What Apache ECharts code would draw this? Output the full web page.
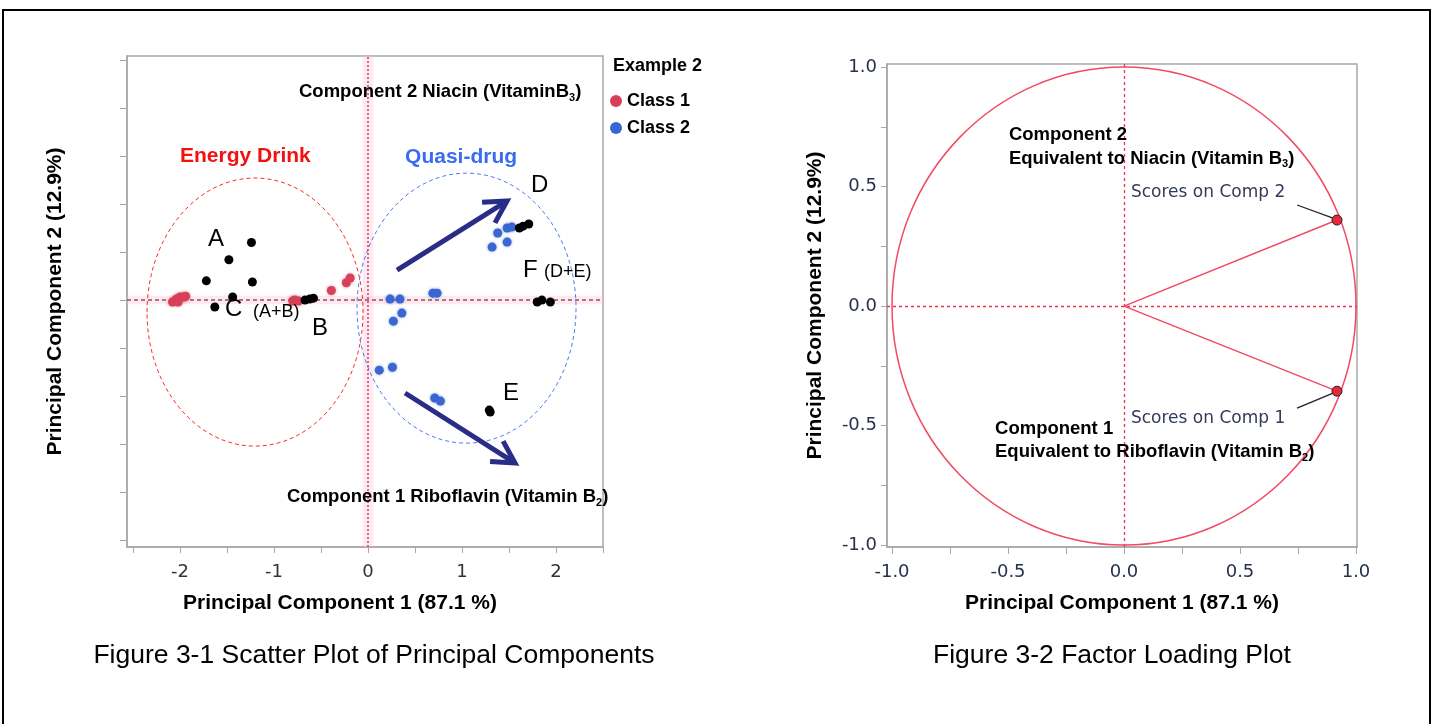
<!DOCTYPE html>
<html><head><meta charset="utf-8">
<script src="https://cdn.jsdelivr.net/npm/echarts@6/dist/echarts.min.js"></script>
<style>html,body{margin:0;padding:0;background:#fff}#c{width:1436px;height:724px}</style>
</head><body><div id="c"></div>
<script>
// ---------- data: Figure 3-1 (scores) ----------
const class1 = [[-2.08,-0.01],[-2.04,0.005],[-2.0,0.016],[-1.96,0.016],[-2.02,-0.01],[-1.94,0.02],
  [-0.80,-0.005],[-0.78,0],[-0.74,-0.005],[-0.39,0.05],[-0.23,0.09],[-0.19,0.115]];
const class2 = [[1.32,0.276],[1.38,0.349],[1.48,0.302],[1.48,0.375],[1.53,0.38],[0.69,0.036],[0.735,0.036],
  [0.235,0.005],[0.34,0.005],[0.36,-0.068],[0.27,-0.11],[0.12,-0.365],[0.26,-0.35],[0.71,-0.51],[0.77,-0.526]];
const samples = [[-1.24,0.30],[-1.48,0.21],[-1.72,0.10],[-1.23,0.094],[-1.44,0.016],[-1.63,-0.036],
  [-0.67,0],[-0.62,0.005],[-0.58,0.01],[1.61,0.375],[1.65,0.385],[1.71,0.396],[1.80,-0.01],[1.85,0],[1.94,-0.01],
  [1.29,-0.573],[1.30,-0.583]];
const groupEllipses = [[-1.202,-0.0625,1.149,0.698],[1.048,-0.042,1.165,0.703]]; // cx, cy, rx, ry
const groupArrows = [[0.309,0.156,1.479,0.516],[0.394,-0.484,1.564,-0.849]];
const xTicksLeft = [-2.5,-2,-1.5,-1,-0.5,0,0.5,1,1.5,2,2.5];
const xLabelsLeft = [-2,-1,0,1,2];
const yTicksLeft = [-1.25,-1,-0.75,-0.5,-0.25,0,0.25,0.5,0.75,1,1.25];
const legendNames = ['Class 1','Class 2'];

// ---------- data: Figure 3-2 (loadings) ----------
const loadingNames = ['Scores on Comp 1','Scores on Comp 2'];
const loadings = [[0.918,-0.356],[0.918,0.36]];
const ticksRight = [-1,-0.75,-0.5,-0.25,0,0.25,0.5,0.75,1];
const labelsRight = [-1,-0.5,0,0.5,1];

// ---------- annotations (data coords) ----------
const leftNotes = [
  ['Component 2 Niacin (VitaminB{sub|3})', -0.734, 1.083, 'bold'],
  ['Component 1 Riboflavin (Vitamin B{sub|2})', -0.862, -1.026, 'bold'],
  ['Energy Drink', -2.0, 0.75, 'red'],
  ['Quasi-drug', 0.394, 0.745, 'blue'],
  ['A', -1.702, 0.318, 'letter'],
  ['C', -1.521, -0.047, 'letter'],
  ['(A+B)', -1.223, -0.0625, 'paren'],
  ['B', -0.596, -0.146, 'letter'],
  ['D', 1.734, 0.599, 'letter'],
  ['F', 1.649, 0.156, 'letter'],
  ['(D+E)', 1.872, 0.146, 'paren'],
  ['E', 1.436, -0.484, 'letter']
];
const rightNotes = [
  ['Component 2', -0.496, 0.715, 'bold'],
  ['Equivalent to Niacin (Vitamin B{sub|3})', -0.496, 0.617, 'bold'],
  ['Scores on Comp 2', 0.030, 0.477, 'score'],
  ['Scores on Comp 1', 0.030, -0.469, 'score'],
  ['Component 1', -0.556, -0.515, 'bold'],
  ['Equivalent to Riboflavin (Vitamin B{sub|2})', -0.556, -0.611, 'bold']
];
const leaders = [[[0.746,0.423],[0.901,0.368]],[[0.746,-0.427],[0.901,-0.364]]];

const ARIAL = 'Liberation Sans, Arial, sans-serif';
const TAHOMA = 'DejaVu Sans, sans-serif';
const noteStyles = {
  bold: {fontFamily: ARIAL, fontWeight: 'bold', fontSize: 18.5, color: '#000', lineHeight: 22,
    rich: {sub: {fontFamily: ARIAL, fontWeight: 'bold', fontSize: 11, color: '#000', verticalAlign: 'bottom', lineHeight: 11}}},
  red: {fontFamily: ARIAL, fontWeight: 'bold', fontSize: 21, color: '#f51010'},
  blue: {fontFamily: ARIAL, fontWeight: 'bold', fontSize: 21, color: '#3a6cf0'},
  letter: {fontFamily: ARIAL, fontSize: 24, color: '#000'},
  paren: {fontFamily: ARIAL, fontSize: 18, color: '#000'},
  score: {fontFamily: TAHOMA, fontSize: 17, color: '#333a5a'}
};

function noteSeries(notes, gi) {
  return {
    type: 'scatter', xAxisIndex: gi, yAxisIndex: gi, symbolSize: 1, silent: true, z: 10,
    itemStyle: {color: 'rgba(0,0,0,0)', opacity: 1},
    emphasis: {disabled: true},
    data: notes.map(n => ({name: n[0], value: [n[1], n[2]],
      label: Object.assign({show: true, position: 'inside', align: 'left', verticalAlign: 'middle',
        formatter: '{b}'}, noteStyles[n[3]])}))
  };
}

function ellipseSeries(data, gi, colors, dash) {
  return {
    type: 'custom', xAxisIndex: gi, yAxisIndex: gi, silent: true, z: 2,
    data: data,
    renderItem: function (params, api) {
      const c = api.coord([api.value(0), api.value(1)]);
      const s = api.size([api.value(2), api.value(3)]);
      return {type: 'ellipse', shape: {cx: c[0], cy: c[1], rx: s[0], ry: s[1]},
        style: {fill: 'none', stroke: colors[params.dataIndex], lineWidth: dash ? 1 : 1.5, lineDash: dash || null}};
    }
  };
}

const chart = echarts.init(document.getElementById('c'), null, {renderer: 'canvas'});

const axisName = {fontSize: 21, fontWeight: 'bold', fontFamily: ARIAL, color: '#000'};
const grey = '#a8a8a8';

const option = {
  animation: false,
  backgroundColor: '#fff',
  title: {text: 'Example 2', left: 613, top: 57, padding: 0,
    textStyle: {fontSize: 18, fontWeight: 'bold', fontFamily: ARIAL, color: '#000'}},
  legend: {data: legendNames, orient: 'vertical', left: 610, top: 92, padding: 0, itemGap: 9,
    itemWidth: 12, itemHeight: 12, icon: 'circle',
    textStyle: {fontSize: 18, fontWeight: 'bold', fontFamily: ARIAL, color: '#000'}},
  grid: [
    {left: 127, top: 56, width: 476, height: 491, show: true, borderColor: grey, borderWidth: 1.5, backgroundColor: 'transparent'},
    {left: 887, top: 64, width: 470, height: 483, show: true, borderColor: grey, borderWidth: 1.5, backgroundColor: 'transparent'}
  ],
  xAxis: [
    {gridIndex: 0, type: 'value', min: -2.564, max: 2.50,
      name: 'Principal Component 1 (87.1 %)', nameLocation: 'middle', nameGap: 46,
      nameTextStyle: Object.assign({padding: [0, 50, 0, 0]}, axisName),
      axisLine: {show: true, onZero: false, lineStyle: {color: grey, width: 1.5}},
      axisTick: {show: true, customValues: xTicksLeft, length: 6, lineStyle: {color: grey}},
      axisLabel: {customValues: xLabelsLeft, margin: 16, fontSize: 18, color: '#333', fontFamily: TAHOMA},
      splitLine: {show: false}},
    {gridIndex: 1, type: 'value', min: -1.0216, max: 1.0043,
      name: 'Principal Component 1 (87.1 %)', nameLocation: 'middle', nameGap: 46, nameTextStyle: axisName,
      axisLine: {show: true, onZero: false, lineStyle: {color: grey, width: 1.5}},
      axisTick: {show: true, customValues: ticksRight, length: 7, lineStyle: {color: grey}},
      axisLabel: {customValues: labelsRight, margin: 16, fontSize: 18, color: '#27304f', fontFamily: TAHOMA,
        formatter: v => v.toFixed(1)},
      splitLine: {show: false}}
  ],
  yAxis: [
    {gridIndex: 0, type: 'value', min: -1.286, max: 1.271,
      name: 'Principal Component 2 (12.9%)', nameLocation: 'middle', nameGap: 61, nameTextStyle: axisName,
      axisLine: {show: true, onZero: false, lineStyle: {color: grey, width: 1.5}},
      axisTick: {show: true, customValues: yTicksLeft, length: 7, lineStyle: {color: grey}},
      axisLabel: {show: false},
      splitLine: {show: false}},
    {gridIndex: 1, type: 'value', min: -1.008, max: 1.013,
      name: 'Principal Component 2 (12.9%)', nameLocation: 'middle', nameGap: 61, nameTextStyle: axisName,
      axisLine: {show: true, onZero: false, lineStyle: {color: grey, width: 1.5}},
      axisTick: {show: true, customValues: ticksRight, length: 6, lineStyle: {color: grey}},
      axisLabel: {customValues: labelsRight, margin: 10, fontSize: 18, color: '#27304f', fontFamily: TAHOMA,
        formatter: v => v.toFixed(1)},
      splitLine: {show: false}}
  ],
  graphic: [
    {type: 'rect', z: 100, shape: {x: 3, y: 10, width: 1427, height: 740},
      style: {fill: 'none', stroke: '#000', lineWidth: 2}},
    {type: 'text', z: 100, x: 374, y: 656,
      style: {text: 'Figure 3-1 Scatter Plot of Principal Components', font: '26.5px ' + ARIAL,
        fill: '#000', align: 'center', verticalAlign: 'middle'}},
    {type: 'text', z: 100, x: 1112, y: 656,
      style: {text: 'Figure 3-2 Factor Loading Plot', font: '26.5px ' + ARIAL,
        fill: '#000', align: 'center', verticalAlign: 'middle'}}
  ],
  series: [
    // reference lines & bands (left)
    {type: 'line', xAxisIndex: 0, yAxisIndex: 0, data: [], silent: true, z: 1,
      markArea: {silent: true, itemStyle: {color: 'rgba(255,190,205,0.35)'},
        data: [[{xAxis: -0.055}, {xAxis: 0.055}], [{yAxis: -0.022}, {yAxis: 0.022}]]},
      markLine: {silent: true, symbol: 'none', label: {show: false},
        data: [
          {xAxis: 0, lineStyle: {color: '#b8437a', type: [2, 2], width: 1.5}},
          {yAxis: 0, lineStyle: {color: '#7d5868', type: [4, 3], width: 1.5}}
        ]}},
    ellipseSeries(groupEllipses, 0, ['#ff2a2a', '#4d7cf0'], [4, 3]),
    {name: 'Class 1', type: 'scatter', xAxisIndex: 0, yAxisIndex: 0, data: class1, symbolSize: 9, z: 5,
      itemStyle: {color: '#d8405a', opacity: 1, shadowBlur: 3, shadowColor: 'rgba(216,64,90,0.6)'}},
    {name: 'Class 2', type: 'scatter', xAxisIndex: 0, yAxisIndex: 0, data: class2, symbolSize: 9, z: 5,
      itemStyle: {color: '#3a66d2', opacity: 1, shadowBlur: 3, shadowColor: 'rgba(58,102,210,0.6)'}},
    {name: 'Samples', type: 'scatter', xAxisIndex: 0, yAxisIndex: 0, data: samples, symbolSize: 9, z: 6,
      itemStyle: {color: '#000', opacity: 1}},
    {type: 'custom', xAxisIndex: 0, yAxisIndex: 0, data: groupArrows, silent: true, z: 7,
      renderItem: function (params, api) {
        const p0 = api.coord([api.value(0), api.value(1)]);
        const p1 = api.coord([api.value(2), api.value(3)]);
        const ang = Math.atan2(p1[1] - p0[1], p1[0] - p0[0]);
        const L = 25, a = Math.PI / 6.2;
        const h1 = [p1[0] - L * Math.cos(ang - a), p1[1] - L * Math.sin(ang - a)];
        const h2 = [p1[0] - L * Math.cos(ang + a), p1[1] - L * Math.sin(ang + a)];
        const st = {stroke: '#2a2d88', lineWidth: 5, fill: 'none'};
        return {type: 'group', children: [
          {type: 'line', shape: {x1: p0[0], y1: p0[1], x2: p1[0] - 3 * Math.cos(ang), y2: p1[1] - 3 * Math.sin(ang)}, style: st},
          {type: 'polyline', shape: {points: [h1, p1, h2]}, style: Object.assign({lineJoin: 'miter'}, st)}
        ]};
      }},
    noteSeries(leftNotes, 0),

    // right chart
    {type: 'line', xAxisIndex: 1, yAxisIndex: 1, data: [], silent: true, z: 1,
      markLine: {silent: true, symbol: 'none', label: {show: false},
        lineStyle: {color: '#ee3350', type: [3, 3], width: 1.3},
        data: [{xAxis: 0}, {yAxis: 0}]}},
    ellipseSeries([[0, 0, 1, 1]], 1, ['#f24a62'], null),
    {type: 'line', xAxisIndex: 1, yAxisIndex: 1, data: [[0, 0], loadings[0]], symbol: 'none', silent: true, z: 3,
      lineStyle: {color: '#f24a62', width: 1.5}},
    {type: 'line', xAxisIndex: 1, yAxisIndex: 1, data: [[0, 0], loadings[1]], symbol: 'none', silent: true, z: 3,
      lineStyle: {color: '#f24a62', width: 1.5}},
    {type: 'line', xAxisIndex: 1, yAxisIndex: 1, data: leaders[0], symbol: 'none', silent: true, z: 3,
      lineStyle: {color: '#222', width: 1.3}},
    {type: 'line', xAxisIndex: 1, yAxisIndex: 1, data: leaders[1], symbol: 'none', silent: true, z: 3,
      lineStyle: {color: '#222', width: 1.3}},
    {name: 'Loadings', type: 'scatter', xAxisIndex: 1, yAxisIndex: 1, z: 5,
      data: loadings.map((v, i) => ({name: loadingNames[i], value: v})), symbolSize: 10,
      itemStyle: {color: '#e8283c', opacity: 1, borderColor: '#222', borderWidth: 1}},
    noteSeries(rightNotes, 1)
  ]
};
chart.setOption(option);
</script>
</body></html>
